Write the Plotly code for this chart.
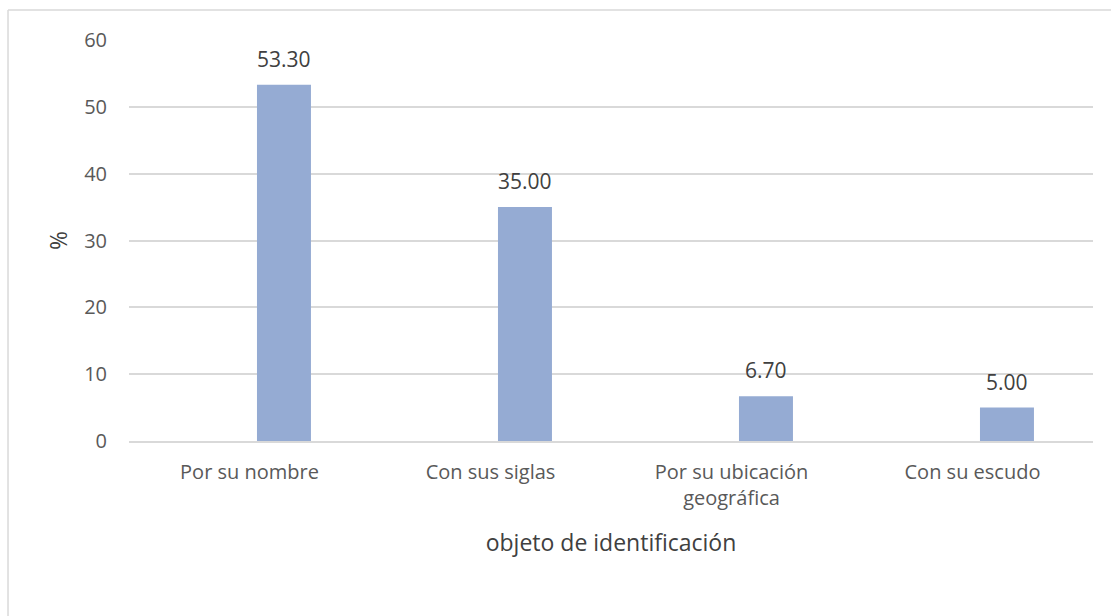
import plotly.graph_objects as go

categories = ["Por su nombre", "Con sus siglas", "Por su ubicación<br>geográfica", "Con su escudo"]
values = [53.30, 35.00, 6.70, 5.00]
y_ticks = [0, 10, 20, 30, 40, 50, 60]

BAR_COLOR = "#95ABD3"
GRID = "#D9D9D9"
TEXT = "#595959"
LABEL = "#404040"
FONT = "Open Sans"

BAR_OFFSET = 0.031
BAR_WIDTH = 0.224

fig = go.Figure()
fig.add_trace(go.Bar(
    x=list(range(len(categories))),
    y=values,
    offset=BAR_OFFSET,
    width=BAR_WIDTH,
    marker=dict(color=BAR_COLOR, line=dict(width=0)),
    hoverinfo="skip",
))

for i, v in enumerate(values):
    fig.add_annotation(
        x=i + BAR_OFFSET + BAR_WIDTH / 2, y=v,
        text=f"{v:.2f}", showarrow=False,
        xanchor="center", yanchor="bottom", yshift=10,
        font=dict(family=FONT, size=21, color=LABEL),
    )

# chart frame (left and top edges)
fig.add_shape(type="line", xref="paper", yref="paper",
              x0=-0.1255, x1=1.1, y0=1.0748, y1=1.0748,
              line=dict(color=GRID, width=1.5))
fig.add_shape(type="line", xref="paper", yref="paper",
              x0=-0.1255, x1=-0.1255, y0=1.0748, y1=-0.5,
              line=dict(color=GRID, width=1.5))

fig.update_layout(
    width=1111, height=616,
    margin=dict(l=129, r=18, t=40, b=175),
    paper_bgcolor="white", plot_bgcolor="white",
    showlegend=False,
    font=dict(family=FONT, color=TEXT, size=20),
    xaxis=dict(
        range=[-0.5, len(categories) - 0.5],
        tickmode="array",
        tickvals=list(range(len(categories))),
        ticktext=categories,
        showgrid=False, zeroline=False,
        showline=True, linecolor=GRID, linewidth=1.5,
        ticks="", ticklabelstandoff=12,
        tickfont=dict(size=20, color=TEXT),
        title=dict(text="objeto de identificación", standoff=25,
                   font=dict(size=23, color=LABEL)),
    ),
    yaxis=dict(
        range=[0, 60],
        tickmode="array", tickvals=y_ticks,
        showgrid=True, gridcolor=GRID, gridwidth=1.5,
        zeroline=False, showline=False,
        ticks="", ticklabelstandoff=21,
        tickfont=dict(size=20, color=TEXT),
        title=dict(text="%", standoff=10, font=dict(size=23, color=LABEL)),
    ),
)

fig.write_html("out.html")
